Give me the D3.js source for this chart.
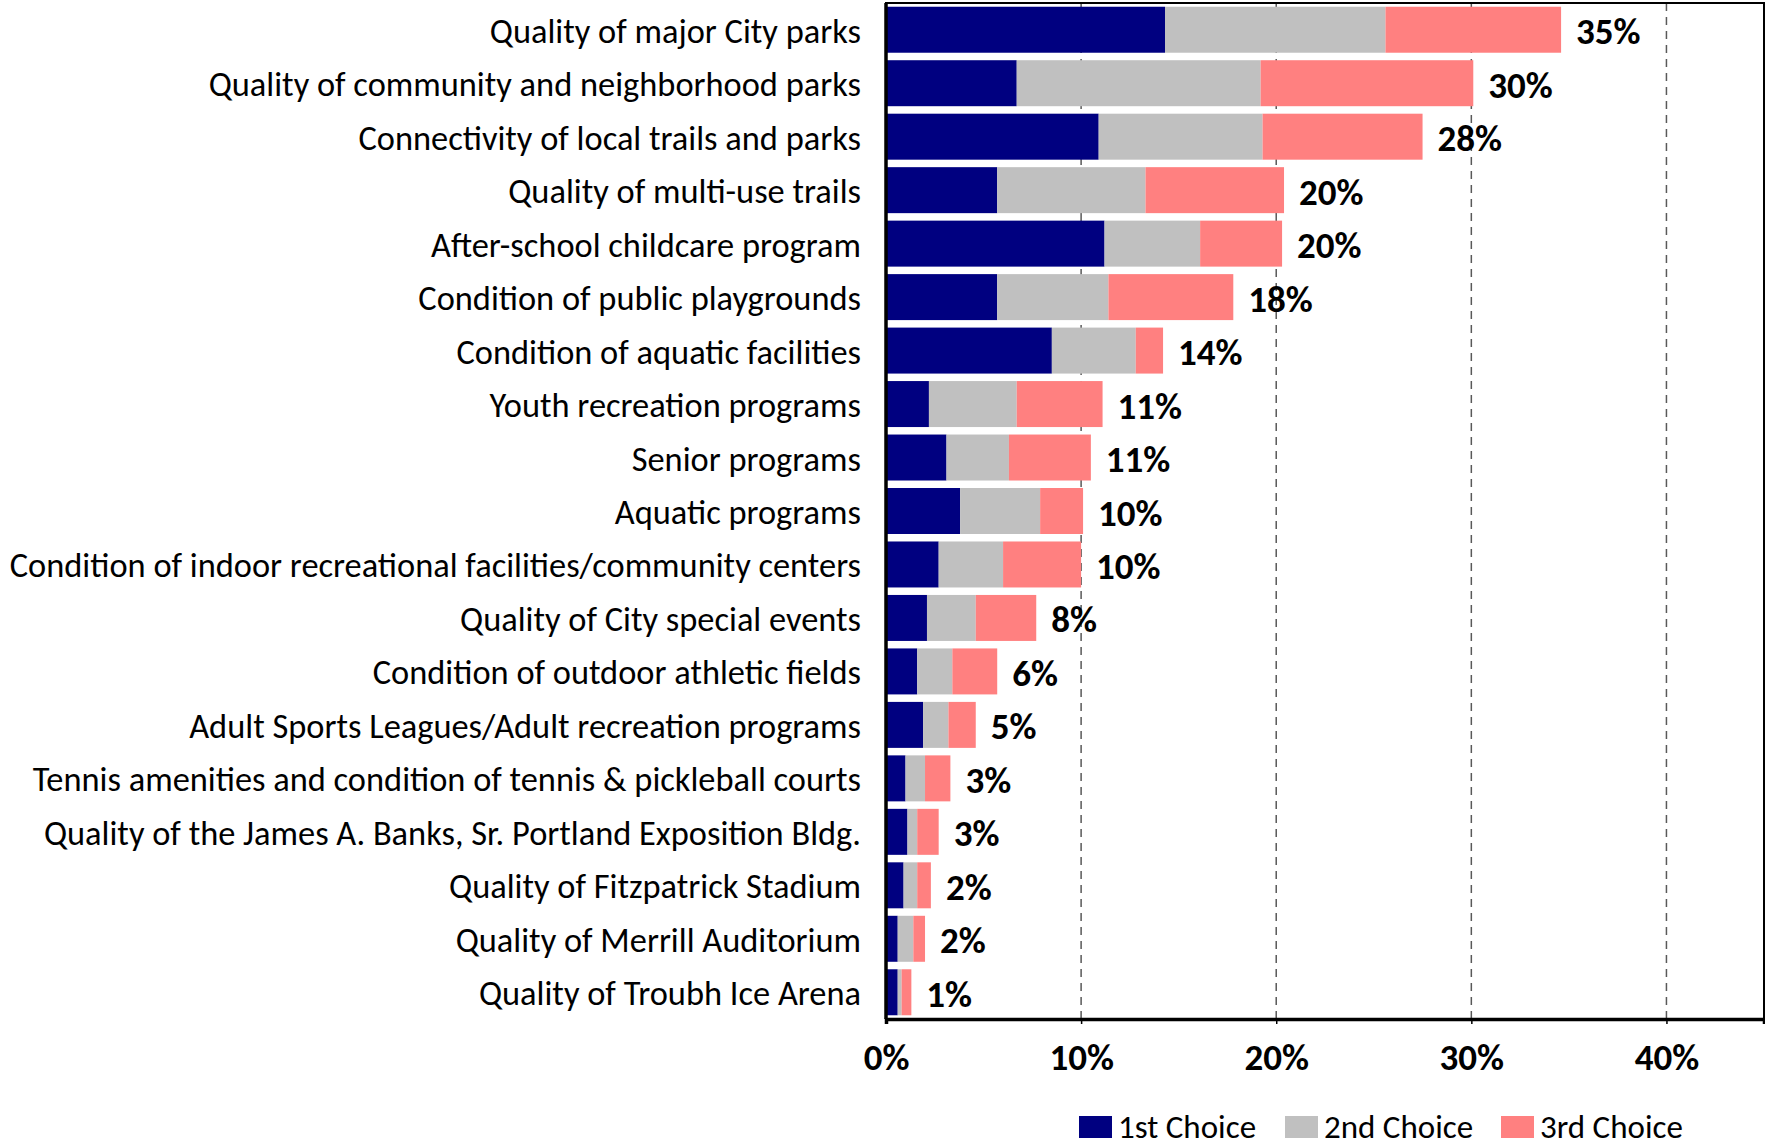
<!DOCTYPE html>
<html>
<head>
<meta charset="utf-8">
<script src="https://cdn.jsdelivr.net/npm/d3@7"></script>
<style>
  body { margin: 0; background: #fff; }
  svg { display: block; font-family: Carlito, Calibri, Lato, sans-serif; }
</style>
</head>
<body>
<div id="chart"></div>
<script>
// categories, top to bottom
const categories = [
    "Quality of major City parks",
    "Quality of community and neighborhood parks",
    "Connectivity of local trails and parks",
    "Quality of multi-use trails",
    "After-school childcare program",
    "Condition of public playgrounds",
    "Condition of aquatic facilities",
    "Youth recreation programs",
    "Senior programs",
    "Aquatic programs",
    "Condition of indoor recreational facilities/community centers",
    "Quality of City special events",
    "Condition of outdoor athletic fields",
    "Adult Sports Leagues/Adult recreation programs",
    "Tennis amenities and condition of tennis & pickleball courts",
    "Quality of the James A. Banks, Sr. Portland Exposition Bldg.",
    "Quality of Fitzpatrick Stadium",
    "Quality of Merrill Auditorium",
    "Quality of Troubh Ice Arena"
];

// values in percent
const firstChoice  = [14.3, 6.7, 10.9, 5.7, 11.2, 5.7, 8.5, 2.2, 3.1, 3.8, 2.7, 2.1, 1.6, 1.9, 1.0, 1.1, 0.9, 0.6, 0.6];
const secondChoice = [11.3, 12.5, 8.4, 7.6, 4.9, 5.7, 4.3, 4.5, 3.2, 4.1, 3.3, 2.5, 1.8, 1.3, 1.0, 0.5, 0.7, 0.8, 0.2];
const thirdChoice  = [9.0, 10.9, 8.2, 7.1, 4.2, 6.4, 1.4, 4.4, 4.2, 2.2, 4.0, 3.1, 2.3, 1.4, 1.3, 1.1, 0.7, 0.6, 0.5];

const totalLabels = ["35%", "30%", "28%", "20%", "20%", "18%", "14%", "11%", "11%", "10%",
                     "10%", "8%", "6%", "5%", "3%", "3%", "2%", "2%", "1%"];

const seriesNames = ["1st Choice", "2nd Choice", "3rd Choice"];
const seriesColors = ["#000080", "#C0C0C0", "#FF8080"];
const tickValues = [0, 10, 20, 30, 40];

const W = 1765, H = 1146;
const margin = { top: 3, right: 1, bottom: 127, left: 886 };
const width = W - margin.left - margin.right;
const height = H - margin.top - margin.bottom;

const rows = categories.map((c, i) => ({
    name: c,
    s0: firstChoice[i],
    s1: secondChoice[i],
    s2: thirdChoice[i],
    label: totalLabels[i]
}));

const svg = d3.select("#chart").append("svg")
    .attr("width", W)
    .attr("height", H);

const g = svg.append("g")
    .attr("transform", `translate(${margin.left},${margin.top})`);

const x = d3.scaleLinear().domain([0, 45]).range([0, width]);
const y = d3.scaleBand().domain(categories).range([0, height])
    .paddingInner(0.14).paddingOuter(0.07);

// dashed gridlines
g.append("g")
    .selectAll("line")
    .data(tickValues.filter(d => d > 0))
    .join("line")
    .attr("x1", d => x(d)).attr("x2", d => x(d))
    .attr("y1", 0).attr("y2", height)
    .attr("stroke", "#595959")
    .attr("stroke-width", 1.5)
    .attr("stroke-dasharray", "8,6");

// stacked bars
const stack = d3.stack().keys(["s0", "s1", "s2"]);
const layers = stack(rows);

g.append("g")
    .selectAll("g")
    .data(layers)
    .join("g")
    .attr("fill", (d, i) => seriesColors[i])
    .selectAll("rect")
    .data(d => d)
    .join("rect")
    .attr("x", d => x(d[0]))
    .attr("width", d => x(d[1]) - x(d[0]))
    .attr("y", d => y(d.data.name))
    .attr("height", y.bandwidth());

// total labels
g.append("g")
    .selectAll("text")
    .data(layers[2])
    .join("text")
    .attr("x", d => x(d[1]) + 15)
    .attr("y", d => y(d.data.name) + y.bandwidth() / 2 + 2)
    .attr("dominant-baseline", "central")
    .attr("font-size", 37)
    .attr("font-weight", "bold")
    .text(d => d.data.label);

// category labels
g.append("g")
    .selectAll("text")
    .data(categories)
    .join("text")
    .attr("x", -25)
    .attr("y", d => y(d) + y.bandwidth() / 2 + 1)
    .attr("text-anchor", "end")
    .attr("dominant-baseline", "central")
    .attr("font-size", 34.4)
    .text(d => d);

// frame
g.append("rect")
    .attr("width", width).attr("height", height)
    .attr("fill", "none")
    .attr("stroke", "#000")
    .attr("stroke-width", 2);

// x axis
const xAxis = g.append("g")
    .attr("transform", `translate(0,${height})`)
    .call(d3.axisBottom(x).tickValues(tickValues).tickSize(5).tickPadding(20)
        .tickFormat(d => d + "%"))
    .attr("font-family", null)
    .attr("font-size", null);
xAxis.select(".domain").attr("stroke-width", 3.5);
xAxis.selectAll(".tick line").attr("stroke-width", 1.5);
xAxis.selectAll("text")
    .attr("font-size", 37)
    .attr("font-weight", "bold")
    .attr("fill", "#000");

// y axis line
g.append("line")
    .attr("x1", 0).attr("x2", 0)
    .attr("y1", 0).attr("y2", height)
    .attr("stroke", "#000")
    .attr("stroke-width", 3.5);

// legend
const legend = svg.append("g")
    .attr("transform", "translate(1079,1126)");
const legendX = [0, 206, 422];
const item = legend.selectAll("g")
    .data(seriesNames)
    .join("g")
    .attr("transform", (d, i) => `translate(${legendX[i]},0)`);
item.append("rect")
    .attr("x", 0).attr("y", -10)
    .attr("width", 33).attr("height", 22)
    .attr("fill", (d, i) => seriesColors[i]);
item.append("text")
    .attr("x", 39)
    .attr("y", 1)
    .attr("dominant-baseline", "central")
    .attr("font-size", 33)
    .text(d => d);
</script>
</body>
</html>
